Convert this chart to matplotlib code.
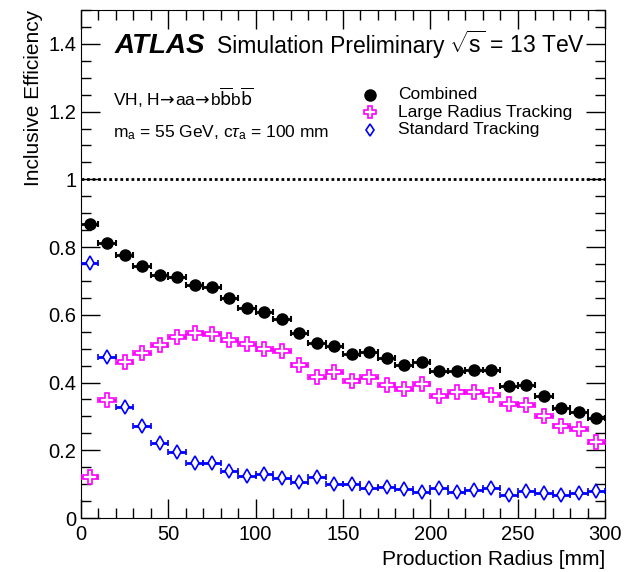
import matplotlib
matplotlib.use("Agg")
import matplotlib.pyplot as plt
from matplotlib.ticker import MultipleLocator
import numpy as np

plt.rcParams['font.family'] = ['Liberation Sans', 'DejaVu Sans']
plt.rcParams['mathtext.fontset'] = 'custom'
plt.rcParams['mathtext.rm'] = 'Liberation Sans'
plt.rcParams['mathtext.it'] = 'Liberation Sans:italic'
plt.rcParams['mathtext.bf'] = 'Liberation Sans:bold'

# Data
radius = [5, 15, 25, 35, 45, 55, 65, 75, 85, 95, 105, 115, 125, 135, 145,
          155, 165, 175, 185, 195, 205, 215, 225, 235, 245, 255, 265, 275, 285, 295]
bin_half_width = 5
combined = [0.868, 0.813, 0.776, 0.744, 0.717, 0.713, 0.688, 0.683, 0.650, 0.621,
            0.607, 0.589, 0.545, 0.518, 0.507, 0.485, 0.489, 0.472, 0.451, 0.461,
            0.435, 0.433, 0.438, 0.438, 0.391, 0.394, 0.360, 0.325, 0.314, 0.294]
large_radius = [0.122, 0.348, 0.461, 0.486, 0.511, 0.535, 0.545, 0.542, 0.527, 0.515,
                0.499, 0.494, 0.451, 0.415, 0.431, 0.404, 0.416, 0.392, 0.381, 0.396,
                0.359, 0.372, 0.372, 0.364, 0.337, 0.334, 0.300, 0.271, 0.262, 0.225]
standard = [0.754, 0.474, 0.328, 0.272, 0.220, 0.196, 0.161, 0.161, 0.140, 0.125,
            0.130, 0.117, 0.107, 0.122, 0.100, 0.101, 0.089, 0.091, 0.087, 0.077,
            0.089, 0.076, 0.082, 0.088, 0.068, 0.081, 0.073, 0.068, 0.073, 0.081]

fig = plt.figure(figsize=(6.24, 5.72), dpi=100)
ax = fig.add_axes([0.1298, 0.0944, 0.9696 - 0.1298, 0.9825 - 0.0944])

xerr = [bin_half_width] * len(radius)

ax.errorbar(radius, standard, xerr=xerr, fmt='d', color='#0000ff', mfc='white',
            mec='#0000ff', mew=1.2, ms=7, elinewidth=2, capsize=2.5, capthick=1.5,
            zorder=3)
ax.errorbar(radius, large_radius, xerr=xerr, fmt='P', color='#ff00ff', mfc='white',
            mec='#ff00ff', mew=1.2, ms=9.5, elinewidth=2, capsize=2.5, capthick=1.5,
            zorder=4)
ax.errorbar(radius, combined, xerr=xerr, fmt='o', color='black', mfc='black',
            mec='black', ms=8, elinewidth=2, capsize=2.5, capthick=1.5, zorder=5)

ax.axhline(1.0, color='black', linestyle=(0, (1.0, 1.0)), linewidth=2, zorder=2)

ax.set_xlim(0, 300)
ax.set_ylim(0, 1.5)
ax.xaxis.set_major_locator(MultipleLocator(50))
ax.xaxis.set_minor_locator(MultipleLocator(10))
ax.yaxis.set_major_locator(MultipleLocator(0.2))
ax.yaxis.set_minor_locator(MultipleLocator(0.05))
ax.tick_params(which='both', direction='in', top=True, right=True, labelsize=14.5)
ax.tick_params(axis='x', which='both', pad=5)
ax.tick_params(which='major', length=14, width=1)
ax.tick_params(which='minor', length=7, width=1)
ax.set_yticks([0, 0.2, 0.4, 0.6, 0.8, 1.0, 1.2, 1.4])
ax.set_yticklabels(['0', '0.2', '0.4', '0.6', '0.8', '1', '1.2', '1.4'])

ax.set_xlabel('Production Radius [mm]', fontsize=15, loc='right', labelpad=4)
ax.set_ylabel('Inclusive Efficiency', fontsize=15, loc='top')

# ATLAS label
ax.text(0.065, 0.915, 'ATLAS', transform=ax.transAxes, fontsize=20,
        fontweight='bold', fontstyle='italic', va='baseline')
ax.text(0.260, 0.915, 'Simulation Preliminary', transform=ax.transAxes, fontsize=16.5,
        va='baseline')
ax.text(0.962, 0.915, r'$\sqrt{\rm s}$ = 13 TeV', transform=ax.transAxes, fontsize=16.5,
        va='baseline', ha='right')

ax.text(0.061, 0.811,
        r'VH, H$\!\rightarrow\!$aa$\!\rightarrow\!$b$\overline{\mathrm{b}}$b$\overline{\mathrm{b}}$',
        transform=ax.transAxes, fontsize=12.5, va='baseline', math_fontfamily='dejavusans')
ax.text(0.061, 0.750, r'm$_{\rm a}$ = 55 GeV, c$\tau_{\rm a}$ = 100 mm',
        transform=ax.transAxes, fontsize=12.5, va='baseline')

# Legend
leg_x = 0.552
leg_tx = 0.605
rows = [0.833, 0.799, 0.764]
ax.plot([leg_x], [rows[0]], 'o', color='black', ms=8, transform=ax.transAxes, clip_on=False)
ax.plot([leg_x], [rows[1]], 'P', mfc='white', mec='#ff00ff', mew=1.2, ms=9,
        transform=ax.transAxes, clip_on=False)
ax.plot([leg_x], [rows[2]], 'd', mfc='white', mec='#0000ff', mew=1.2, ms=6,
        transform=ax.transAxes, clip_on=False)
labels = ['Combined', 'Large Radius Tracking', 'Standard Tracking']
for r, lab in zip(rows, labels):
    ax.text(leg_tx, r, lab, transform=ax.transAxes, fontsize=12.5, va='center')

fig.savefig('out.png', dpi=100)
